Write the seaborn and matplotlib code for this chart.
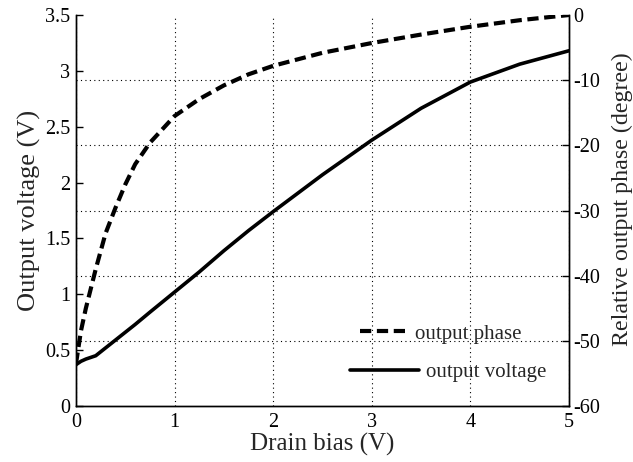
import numpy as np
import pandas as pd
import matplotlib
matplotlib.use("Agg")
import matplotlib.pyplot as plt
from matplotlib.ticker import FixedLocator
import seaborn as sns

# ---- data ----
drain_bias = [0, 0.05, 0.1, 0.2, 0.3, 0.4, 0.5, 0.6, 0.75, 1.0, 1.25, 1.5,
              1.75, 2.0, 2.5, 3.0, 3.5, 4.0, 4.5, 5.0]
output_phase = [-53.5, -48.5, -45.0, -39.0, -33.5, -29.6, -26.0, -22.9, -19.6,
                -15.5, -12.9, -10.8, -9.1, -7.8, -5.8, -4.3, -3.0, -1.8, -0.8, 0.0]
output_voltage = [0.37, 0.40, 0.42, 0.45, 0.52, 0.59, 0.66, 0.73, 0.84, 1.02,
                  1.20, 1.39, 1.57, 1.74, 2.07, 2.38, 2.665, 2.90, 3.06, 3.18]
x_ticks = [0, 1, 2, 3, 4, 5]
left_ticks = [0, 0.5, 1, 1.5, 2, 2.5, 3, 3.5]
left_labels = ["0", "0.5", "1", "1.5", "2", "2.5", "3", "3.5"]
right_ticks = [-60, -50, -40, -30, -20, -10, 0]

df = pd.DataFrame({"bias": drain_bias, "phase": output_phase,
                   "voltage": output_voltage})

sns.set_style("white")
plt.rcParams["font.family"] = ["Liberation Serif", "DejaVu Serif"]
plt.rcParams["axes.unicode_minus"] = False

fig = plt.figure(figsize=(6.33, 4.62), dpi=100)
ax1 = fig.add_axes([76 / 633, 1 - 406 / 462, (569 - 76) / 633, (406 - 15) / 462])
ax2 = ax1.twinx()

sns.lineplot(data=df, x="bias", y="voltage", ax=ax1, color="black", lw=2.6,
             label="output voltage", legend=False)
sns.lineplot(data=df, x="bias", y="phase", ax=ax2, color="black", lw=3.0,
             label="output phase", legend=False)
ph_line = ax2.lines[0]
ph_line.set_linewidth(3.0)
ph_line.set_dashes([2.7, 1.35])
ph_line.set_dash_capstyle("butt")

ax1.set_xlim(0, 5)
ax1.set_ylim(0, 3.5)
ax2.set_ylim(-60, 0)
ax1.set_xticks(x_ticks)
ax1.set_yticks(left_ticks)
ax1.set_yticklabels(left_labels)
ax2.set_yticks(right_ticks)

# grid: vertical at x ticks, horizontal aligned with right-axis ticks
ax1.yaxis.set_minor_locator(FixedLocator(np.linspace(0, 3.5, 7)))
ax1.grid(True, which="major", axis="x", color="black", ls=(0, (1, 3)), lw=0.8)
ax1.grid(True, which="minor", axis="y", color="black", ls=(0, (1, 3)), lw=0.8)
ax1.grid(False, which="major", axis="y")
ax2.grid(False)
for t in ax1.yaxis.get_minor_ticks():
    t.gridline.set_clip_on(False)

for ax in (ax1, ax2):
    for s in ax.spines.values():
        s.set_color("black")
        s.set_linewidth(1.0)
    ax.spines["top"].set_visible(False)

ax1.tick_params(axis="both", which="major", direction="in", length=5, width=1,
                labelsize=14.5, colors="black", pad=4)
ax1.tick_params(axis="y", which="minor", length=0)
ax1.tick_params(axis="x", pad=5)
ax2.tick_params(axis="y", direction="in", length=5, width=1, labelsize=14.5,
                colors="black", pad=3)

ax1.set_xlabel("Drain bias (V)", fontsize=18, labelpad=1)
ax1.set_ylabel("Output voltage (V)", fontsize=19, labelpad=3)
ax2.set_ylabel("Relative output phase (degree)", fontsize=17.3)
ax2.yaxis.set_label_coords(1.086, 0.53)

# legends (frameless, bottom right)
h_v = ax1.lines[0]
fig.legend([ph_line], ["output phase"], loc="center left",
           bbox_to_anchor=(360 / 633, 1 - 334 / 462), frameon=False,
           fontsize=15, handlelength=2.4, handletextpad=0.25,
           borderpad=0, borderaxespad=0)
fig.legend([h_v], ["output voltage"], loc="center left",
           bbox_to_anchor=(350 / 633, 1 - 372 / 462), frameon=False,
           fontsize=15, handlelength=3.3, handletextpad=0.35,
           borderpad=0, borderaxespad=0)

fig.savefig("out.png", dpi=100)
